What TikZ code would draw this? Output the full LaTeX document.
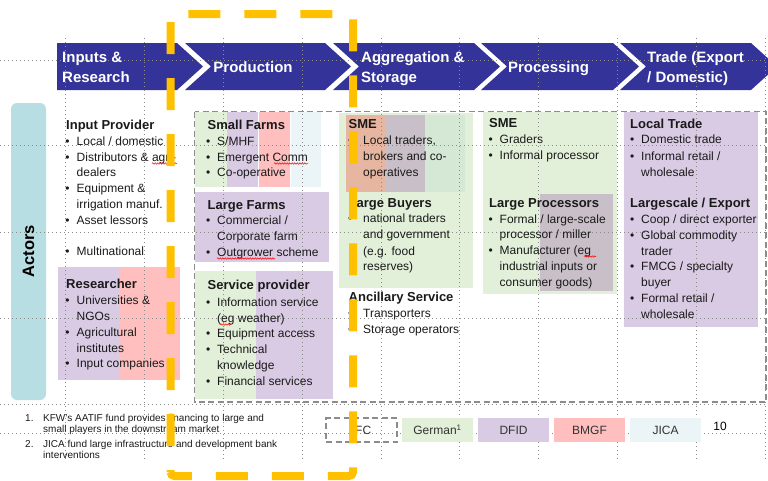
\documentclass[tikz,border=0pt]{standalone}
\usepackage{fontspec}
\setmainfont{Liberation Sans}
\usetikzlibrary{decorations.pathmorphing}

\definecolor{Cchev}{HTML}{333399}
\definecolor{Cteal}{HTML}{B7DEE2}
\definecolor{Cgreen}{HTML}{E2F0D9}
\definecolor{Cpurple}{HTML}{D9CBE4}
\definecolor{Cpink}{HTML}{FFBFBF}
\definecolor{Cice}{HTML}{EBF4F6}
\definecolor{Csalmon}{HTML}{E7B6A1}
\definecolor{Cmauve}{HTML}{C9BFC8}
\definecolor{Cmint}{HTML}{D5E8D5}
\definecolor{Cgold}{HTML}{FFC000}
\definecolor{Cguide}{HTML}{8C8C8C}
\definecolor{Cink}{HTML}{1A1A1A}

\newcommand{\itemdot}{\llap{\textbullet\hspace{7pt}}}
\newcommand{\itemdotwide}{\llap{\textbullet\hspace{11pt}}}

\tikzset{
  txt/.style={anchor=base west,inner sep=0pt,text=Cink,font=\fontsize{12}{14}\selectfont},
  head/.style={txt,font=\fontsize{13}{15}\selectfont\bfseries},
  note/.style={txt,font=\fontsize{10}{12}\selectfont},
  chevtxt/.style={text=white,inner sep=0pt,align=left,font=\fontsize{15}{20}\selectfont\bfseries},
  guide/.style={draw=Cguide,line width=0.7pt,dash pattern=on 0.7pt off 3.3pt},
  graydash/.style={draw=Cguide,line width=1.6pt,dash pattern=on 6pt off 3.5pt},
  golddash/.style={draw=Cgold,line width=8pt,rounded corners=4pt,dash pattern=on 32pt off 24pt,dash phase=30pt},
  legbox/.style={minimum width=71pt,minimum height=24pt,inner sep=0pt,text=black!80,font=\fontsize{12}{14}\selectfont},
  spell/.style={draw=red,line width=0.5pt,decorate,decoration={snake,amplitude=0.7pt,segment length=2.5pt}}
}

\begin{document}
\begin{tikzpicture}[x=1pt,y=-1pt]
\useasboundingbox (0,0) rectangle (768,480);

% value chain stages
\fill[Cchev] (57,43) -- (177,43) -- (203,66.5) -- (177,90) -- (57,90) -- cycle;
\fill[Cchev] (185,43) -- (325,43) -- (351,66.5) -- (325,90) -- (185,90) -- (211,66.5) -- cycle;
\fill[Cchev] (333,43) -- (474,43) -- (500,66.5) -- (474,90) -- (333,90) -- (359,66.5) -- cycle;
\fill[Cchev] (481,43) -- (613,43) -- (639,66.5) -- (613,90) -- (481,90) -- (507,66.5) -- cycle;
\fill[Cchev] (620,43) -- (751,43) -- (777,66.5) -- (751,90) -- (620,90) -- (646,66.5) -- cycle;

\fill[Cteal,rounded corners=6pt] (11,103) rectangle (46,400);

% funder colouring
\fill[Cpurple] (58,267) rectangle (119,380);
\fill[Cpink] (119,267) rectangle (180,380);

\fill[Cgreen] (195,112) rectangle (227,187);
\fill[Cpurple] (227,112) rectangle (258,187);
\fill[Cpink] (259,112) rectangle (290,187);
\fill[Cice] (291,112) rectangle (321,187);
\fill[Cpurple] (195,192) rectangle (329,262);
\fill[Cgreen] (195,271) rectangle (256,399);
\fill[Cpurple] (256,271) rectangle (333,399);

\fill[Cgreen] (339,113) rectangle (473,288);
\fill[Csalmon] (346,115) rectangle (385,192);
\fill[Cmauve] (385,115) rectangle (425,192);
\fill[Cmint] (425,115) rectangle (465,192);

\fill[Cgreen] (483,112) rectangle (617,294);
\fill[Cmauve] (540,194) rectangle (613,291);

\fill[Cpurple] (624,112) rectangle (758,327);

\draw[graydash] (194.5,111.5) rectangle (766,402);

% guides
\foreach \x in {65,144,223,302,381,459,538,617,696,765}
  \draw[guide] (\x,38) -- (\x,462);
\foreach \y in {60,145,232,318,404,433}
  \draw[guide] (0,\y) -- (768,\y);

% stage labels
\node[chevtxt,anchor=west] (st-inp) at (62,67) {Inputs \&\\Research};
\node[chevtxt] (st-prod) at (253,66.7) {Production};
\node[chevtxt,anchor=west] (st-agg) at (361,68.5) {Aggregation \&\\Storage};
\node[chevtxt] (st-proc) at (548.5,68.3) {Processing};
\node[chevtxt,anchor=west] (st-trade) at (647,68.5) {Trade (Export\\/ Domestic)};

\node[rotate=90,inner sep=0pt,font=\fontsize{16.5}{18}\selectfont\bfseries] (actors) at (28.5,251) {Actors};

% inputs and research
\node[head] (inp-h1) at (66,129) {Input Provider};
\node[head] (inp-h2) at (66,288) {Researcher};
\foreach \y/\t [count=\i] in {145/{\itemdot Local / domestic},161/{\itemdot Distributors \& agri-},
    176/dealers,192/{\itemdot Equipment \&},208/{irrigation manuf.},224/{\itemdot Asset lessors},
    255/{\itemdot Multinational},304/{\itemdot Universities \&},320/NGOs,336/{\itemdot Agricultural},
    352/institutes,367/{\itemdot Input companies}}
  \node[txt] (inp\i) at (76.5,\y) {\t};

% production
\node[head] (prod-h1) at (207.5,129) {Small Farms};
\node[head] (prod-h2) at (207.5,209) {Large Farms};
\node[head] (prod-h3) at (207.5,289) {Service provider};
\foreach \y/\t [count=\i] in {145/{\itemdot S/MHF},161/{\itemdot Emergent Comm},176/{\itemdot Co-operative},
    224/{\itemdot Commercial /},240/{Corporate farm},256/{\itemdot Outgrower scheme},
    306/{\itemdot Information service},322/{(eg weather)},337/{\itemdot Equipment access},
    353/{\itemdot Technical},369/knowledge,385/{\itemdot Financial services}}
  \node[txt] (prod\i) at (217,\y) {\t};

% aggregation and storage
\node[head] (agg-h1) at (348.5,128) {SME};
\node[head] (agg-h2) at (348.5,207) {Large Buyers};
\node[head] (agg-h3) at (348.5,301) {Ancillary Service};
\foreach \y/\t [count=\i] in {144/{\itemdotwide Local traders,},160/{brokers and co-},176/operatives,
    222/{\itemdotwide national traders},238/{and government},255/{(e.g. food},270/{reserves)},
    317/{\itemdotwide Transporters},333/{\itemdotwide Storage operators}}
  \node[txt] (agg\i) at (363,\y) {\t};

% processing
\node[head] (proc-h1) at (489,127) {SME};
\node[head] (proc-h2) at (489,207) {Large Processors};
\foreach \y/\t [count=\i] in {143/{\itemdot Graders},159/{\itemdot Informal processor},
    223/{\itemdot Formal / large-scale},238/{processor / miller},254/{\itemdot Manufacturer (eg},
    270/{industrial inputs or},286/{consumer goods)}}
  \node[txt] (proc\i) at (499.5,\y) {\t};

% trade
\node[head] (trd-h1) at (630,128) {Local Trade};
\node[head] (trd-h2) at (630,207) {Largescale / Export};
\foreach \y/\t [count=\i] in {143/{\itemdot Domestic trade},160/{\itemdot Informal retail /},176/wholesale,
    223/{\itemdot Coop / direct exporter},239/{\itemdot Global commodity},255/trader,
    270/{\itemdot FMCG / specialty},286/buyer,302/{\itemdot Formal retail /},318/wholesale}
  \node[txt] (trd\i) at (641,\y) {\t};

% spelling marks
\draw[spell] (152,163.5) -- (177,163.5);
\draw[spell] (274,163.5) -- (308,163.5);
\draw[spell] (217,258.5) -- (275,258.5);
\draw[spell] (220,324.5) -- (231,324.5);
\draw[spell] (584,256.5) -- (596,256.5);

% footnotes
\node[note] (fn1) at (25,421) {1.};
\node[note] (fn1a) at (43,421) {KFW’s AATIF fund provides financing to large and};
\node[note] (fn1b) at (43,432.5) {small players in the downstream market};
\node[note] (fn2) at (25,447) {2.};
\node[note] (fn2a) at (43,447) {JICA fund large infrastructure and development bank};
\node[note] (fn2b) at (43,458.5) {interventions};

% funders
\node[legbox,graydash,line width=1.4pt] (ifc) at (361.5,430) {IFC};
\node[legbox,fill=Cgreen] (german) at (437.5,430) {German\textsuperscript{1}};
\node[legbox,fill=Cpurple] (dfid) at (513.5,430) {DFID};
\node[legbox,fill=Cpink] (bmgf) at (589.5,430) {BMGF};
\node[legbox,fill=Cice] (jica) at (665.5,430) {JICA};
\node[inner sep=0pt,font=\fontsize{12}{14}\selectfont] (pageno) at (720,426) {10};

% focus frame
\draw[golddash] (170.5,476) -- (170.5,14) -- (353,14) -- (353,476) -- cycle;
\end{tikzpicture}
\end{document}
